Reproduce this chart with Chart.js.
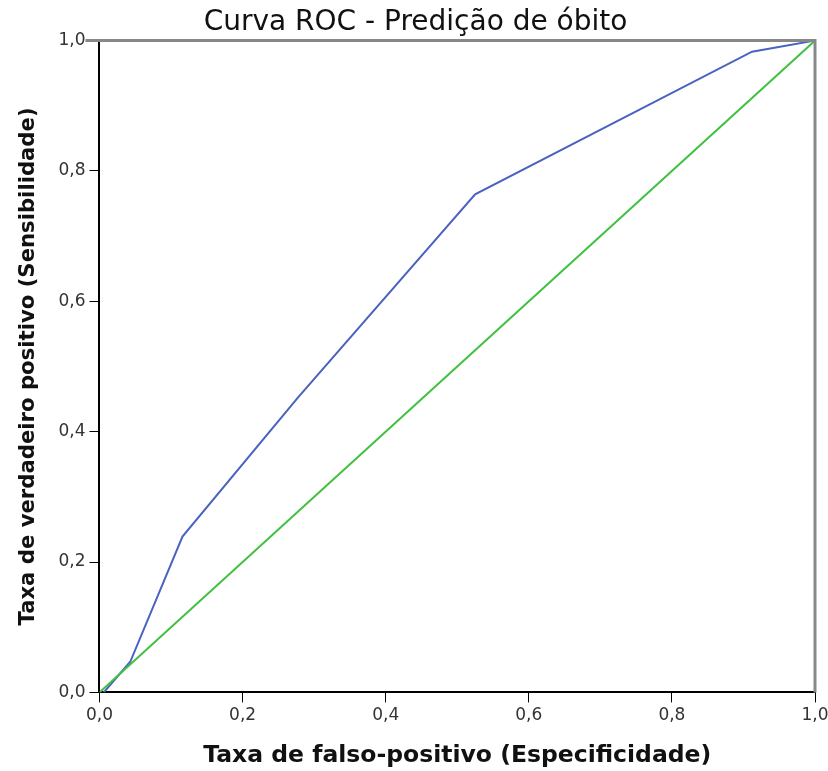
<!DOCTYPE html>
<html>
<head>
<meta charset="utf-8">
<script src="https://cdn.jsdelivr.net/npm/chart.js@4"></script>
<style>
  html, body { margin: 0; padding: 0; background: #fff; }
  #wrap { width: 828px; height: 771px; }
</style>
</head>
<body>
<div id="wrap"><canvas id="rocChart" width="828" height="771"></canvas></div>
<script>
// Pontos da curva ROC (taxa de falso-positivo, sensibilidade)
const fpr = [0.006, 0.043, 0.116, 0.277, 0.525, 0.912, 1.0];
const tpr = [0.0, 0.047, 0.239, 0.452, 0.764, 0.983, 1.0];
// Linha de referência
const refX = [0.0, 1.0];
const refY = [0.0, 1.0];
const ticks = [0, 0.2, 0.4, 0.6, 0.8, 1.0];

const ctx = document.getElementById('rocChart').getContext('2d');

const fmt = v => Number(v).toFixed(1).replace('.', ',');

// moldura cinza em cima e à direita
const moldura = {
    id: 'moldura',
    afterDatasetsDraw(chart) {
        const a = chart.chartArea, c = chart.ctx;
        c.save();
        c.strokeStyle = '#888';
        c.lineWidth = 3;
        c.beginPath();
        c.moveTo(a.left - 14, a.top);
        c.lineTo(a.right, a.top);
        c.lineTo(a.right, a.bottom);
        c.stroke();
        c.restore();
    }
};

new Chart(ctx, {
    type: 'scatter',
    data: {
        datasets: [
            {
                data: refX.map((x, i) => ({ x, y: refY[i] })),
                showLine: true,
                borderColor: '#3fc13f',
                borderWidth: 2,
                pointRadius: 0
            },
            {
                data: fpr.map((x, i) => ({ x, y: tpr[i] })),
                showLine: true,
                borderColor: '#4a62c0',
                borderWidth: 2,
                pointRadius: 0
            }
        ]
    },
    options: {
        responsive: false,
        animation: false,
        layout: { autoPadding: false, padding: { left: 16, right: 13, top: 0, bottom: 1 } },
        plugins: {
            legend: { display: false },
            tooltip: { enabled: false },
            title: {
                display: true,
                text: 'Curva ROC - Predição de óbito',
                color: '#111',
                font: { family: 'DejaVu Sans', size: 28, weight: 'normal' },
                padding: { top: 6, bottom: 1 }
            }
        },
        scales: {
            x: {
                type: 'linear', min: 0, max: 1,
                afterBuildTicks: s => { s.ticks = ticks.map(v => ({ value: v })); },
                afterFit: s => { s.paddingLeft = 0; s.paddingRight = 0; },
                ticks: { callback: fmt, color: '#333', font: { family: 'DejaVu Sans', size: 17 }, padding: 3, maxRotation: 0 },
                grid: { drawOnChartArea: false, color: '#000', tickLength: 10 },
                border: { color: '#000', width: 2 },
                title: {
                    display: true,
                    text: 'Taxa de falso-positivo (Especificidade)',
                    color: '#111',
                    font: { family: 'DejaVu Sans', size: 23.5, weight: 'bold' },
                    padding: { top: 13, bottom: 0 }
                }
            },
            y: {
                type: 'linear', min: 0, max: 1,
                afterBuildTicks: s => { s.ticks = ticks.map(v => ({ value: v })); },
                ticks: { callback: fmt, color: '#333', font: { family: 'DejaVu Sans', size: 17 }, padding: 4 },
                grid: { drawOnChartArea: false, color: '#000', tickLength: 10 },
                border: { color: '#000', width: 2 },
                title: {
                    display: true,
                    text: 'Taxa de verdadeiro positivo (Sensibilidade)',
                    color: '#111',
                    font: { family: 'DejaVu Sans', size: 21.2, weight: 'bold' },
                    padding: { top: 0, bottom: 13 }
                }
            }
        }
    },
    plugins: [moldura]
});
</script>
</body>
</html>
